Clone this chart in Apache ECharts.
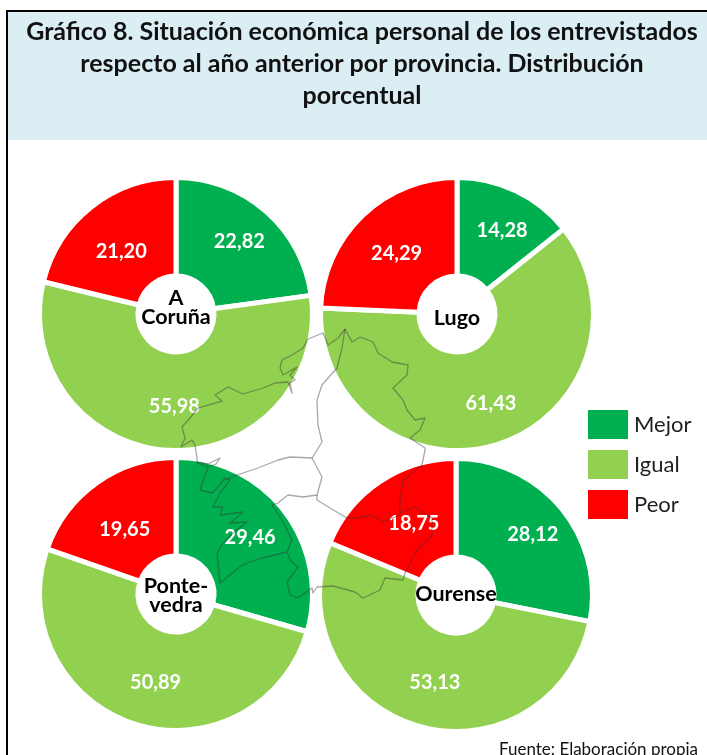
<!DOCTYPE html>
<html>
<head>
    <meta charset="utf-8">
    <title>Gráfico 8</title>
    <script src="https://cdn.jsdelivr.net/npm/echarts@6"></script>
    <style>html, body { margin: 0; padding: 0; background: #fff; }</style>
</head>
<body>
    <div id="chart" style="width: 707px; height: 755px;"></div>
    <script>
    const categories = ['Mejor', 'Igual', 'Peor'];
    const provinces = ['A\nCoruña', 'Lugo', 'Ponte-\nvedra', 'Ourense'];
    const coruna = [22.82, 55.98, 21.20];
    const lugo = [14.28, 61.43, 24.29];
    const pontevedra = [29.46, 50.89, 19.65];
    const ourense = [28.12, 53.13, 18.75];
    const values = [coruna, lugo, pontevedra, ourense];

    const colors = ['#00B050', '#92D050', '#FF0000'];
    const centers = [[176, 314], [457, 314], [176, 594], [456, 595]];
    const nameY = [307.5, 318, 596, 594];
    // ajuste de cada etiqueta respecto a la posicion por defecto
    const labelShift = [
      [[4, -4], [3, 2], [1, 9]],
      [[6, -2], [6, 4], [2, 5]],
      [[2, -2], [7, 3], [1, 9]],
      [[7, -3], [5, 1], [8, 4]]
    ];
    const FONT = 'Lato';

    // silueta de Galicia de fondo (decoracion, en px de la pagina)
    const mapLines = [
      // costa de A Coruña
      [[345,329],[338,338],[328,345],[323,333],[308,339],[303,348],[292,355],[282,360],[280,368],[283,375],[297,367],[290,375],[295,380],[290,383],[292,393],[288,382],[275,383],[263,388],[243,394],[228,387],[215,395],[222,401],[208,405],[198,408],[190,418],[182,427],[185,438],[181,447],[192,440],[195,445],[197,458],[197,463]],
      // ria
      [[197,462],[208,464],[220,458],[216,464],[208,467]],
      // costa de Pontevedra y sur
      [[197,463],[208,467],[200,490],[212,493],[218,487],[225,478],[230,480],[220,493],[213,507],[223,507],[220,515],[243,512],[230,523],[247,522],[233,533],[220,547],[217,555],[220,583],[242,565],[262,558],[287,552],[290,560],[298,567],[287,582],[290,595],[298,598],[312,588],[313,593],[317,587],[333,586],[355,592],[363,598],[380,590],[385,578],[403,580],[405,573],[417,550],[432,535],[432,518],[415,507],[400,513],[400,500],[403,480],[422,465],[425,450]],
      // costa y limite este de Lugo
      [[345,329],[352,342],[360,337],[373,342],[378,353],[392,362],[408,365],[407,375],[393,388],[403,400],[407,410],[415,420],[425,418],[420,430],[410,438],[425,448],[425,450]],
      // A Coruña / Lugo
      [[345,329],[342,348],[337,368],[322,385],[317,400],[318,425],[322,442],[312,458]],
      // A Coruña / Pontevedra
      [[312,458],[290,457],[278,460],[258,468],[237,475],[225,480]],
      // Lugo / Pontevedra
      [[312,458],[322,477],[317,495],[303,497],[288,495],[278,503],[272,505]],
      // Pontevedra / Ourense
      [[272,505],[282,520],[292,540],[287,552]],
      // Lugo / Ourense
      [[317,495],[317,500],[330,508],[347,518],[358,518],[372,515],[383,522],[400,515]]
    ];

    const mapGraphics = mapLines.map(function (line) {
      return {
        type: 'polyline',
        z: 100,
        silent: true,
        shape: { points: line },
        style: { fill: 'none', stroke: 'rgba(50,50,50,0.42)', lineWidth: 1.3, lineJoin: 'round' }
      };
    });

    const nameGraphics = provinces.map(function (name, i) {
      return {
        type: 'text',
        z: 110,
        silent: true,
        x: centers[i][0],
        y: nameY[i],
        style: {
          text: name,
          font: 'bold 21.5px ' + FONT,
          lineHeight: 19,
          fill: '#000',
          align: 'center',
          verticalAlign: 'middle'
        }
      };
    });

    const series = values.map(function (vals, i) {
      return {
        type: 'pie',
        center: centers[i],
        radius: [38, 136.5],
        startAngle: 90,
        clockwise: true,
        animation: false,
        silent: true,
        data: categories.map(function (c, j) { return { name: c, value: vals[j] }; }),
        itemStyle: { borderColor: '#fff', borderWidth: 5 },
        label: {
          show: true,
          position: 'inside',
          formatter: function (p) { return p.value.toFixed(2).replace('.', ','); },
          color: '#fff',
          fontFamily: FONT,
          fontWeight: 'bold',
          fontSize: 20
        },
        labelLine: { show: false },
        labelLayout: function (p) {
          const s = labelShift[p.seriesIndex][p.dataIndex];
          return { dx: s[0], dy: s[1] };
        }
      };
    });

    const option = {
      backgroundColor: '#fff',
      color: colors,
      title: {
        text: 'Gráfico 8. Situación económica personal de los entrevistados\nrespecto al año anterior por provincia. Distribución\nporcentual',
        left: 357,
        top: 11,
        padding: 5,
        textAlign: 'center',
        textStyle: { fontFamily: FONT, fontWeight: 'bold', fontSize: 25, lineHeight: 32, color: '#111' }
      },
      legend: {
        data: categories,
        orient: 'vertical',
        left: 586,
        top: 408,
        padding: 0,
        itemWidth: 42,
        itemHeight: 31,
        itemGap: 7,
        icon: 'rect',
        selectedMode: false,
        textStyle: { fontFamily: FONT, fontSize: 22, color: '#222' }
      },
      graphic: [
        { type: 'rect', z: -1, silent: true, shape: { x: 8, y: 12, width: 699, height: 128 }, style: { fill: '#DAEEF3' } },
        { type: 'rect', z: -1, silent: true, shape: { x: 6, y: 10, width: 701, height: 2 }, style: { fill: '#000' } },
        { type: 'rect', z: -1, silent: true, shape: { x: 6, y: 10, width: 2, height: 745 }, style: { fill: '#000' } },
        { type: 'text', z: 110, silent: true, x: 698, y: 750, style: { text: 'Fuente: Elaboración propia', font: '17px ' + FONT, fill: '#111', align: 'right', verticalAlign: 'middle' } }
      ].concat(mapGraphics, nameGraphics),
      series: series
    };

    const myChart = echarts.init(document.getElementById('chart'));
    myChart.setOption(option);
    </script>
</body>
</html>
